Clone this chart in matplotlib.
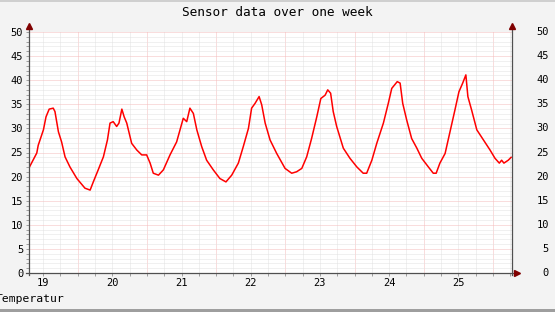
import matplotlib
matplotlib.use('Agg')
import matplotlib.pyplot as plt
import matplotlib.transforms as mtransforms
from matplotlib.patches import Rectangle
import numpy as np

# hours since 19th 00:00, temperature values
hours = [7.1, 9.8, 10.3, 12.1, 13.0, 14.1, 15.5, 16.1, 17.3, 18.4, 19.6, 21.3, 23.7,
         26.5, 28.3, 29.4, 31.1, 32.9, 34.3, 35.2, 36.3, 37.5, 38.3, 39.3, 40.1, 41.0,
         42.7, 44.5, 46.2, 47.9, 49.1, 50.2, 52.0, 53.7, 56.0, 58.3, 60.6, 61.8, 62.9,
         64.1, 65.3, 67.0, 68.7, 71.0, 73.3, 75.4, 77.4, 79.7, 81.4, 83.2, 84.3, 85.5,
         86.9, 87.8, 89.0, 90.7, 93.0, 95.9, 98.2, 99.9, 101.7, 103.4, 105.1, 106.9,
         108.3, 109.8, 110.7, 111.7, 112.6, 113.8, 116.1, 118.4, 120.8, 123.0, 124.2,
         126.0, 127.7, 130.0, 131.7, 132.9, 134.8, 135.8, 136.7, 138.1, 139.8, 141.6,
         143.3, 145.6, 147.3, 148.3, 149.6, 151.4, 153.1, 154.8, 156.2, 157.5, 158.6,
         159.3, 160.6, 162.4, 164.7, 167.0, 168.7, 170.2, 171.0, 171.8, 173.3, 174.3]
temps = [21.8, 24.9, 26.5, 29.7, 32.4, 34.0, 34.2, 33.5, 29.3, 27.2, 24.1, 22.0, 19.6,
         17.6, 17.2, 18.9, 21.4, 24.1, 27.6, 31.1, 31.4, 30.4, 31.1, 34.0, 32.4, 31.1,
         26.9, 25.5, 24.5, 24.5, 22.8, 20.7, 20.3, 21.4, 24.5, 27.2, 32.1, 31.4, 34.2,
         33.1, 29.7, 26.2, 23.4, 21.4, 19.6, 18.9, 20.3, 22.8, 26.2, 30.0, 34.2, 35.2,
         36.6, 34.9, 31.1, 27.6, 24.8, 21.7, 20.7, 21.0, 21.7, 24.1, 27.9, 32.4,
         36.2, 36.9, 38.0, 37.3, 33.5, 30.4, 25.9, 23.8, 22.0, 20.7, 20.7,
         23.4, 26.9, 31.1, 35.2, 38.3, 39.7, 39.4, 35.2, 31.7, 27.9, 25.9,
         23.8, 22.0, 20.7, 20.7, 22.8, 24.8, 29.3, 33.8, 37.6, 39.4, 41.1,
         36.6, 33.8, 29.7, 27.6, 25.5, 23.8, 22.8, 23.4, 22.8, 23.4, 24.0]

day_labels = ['19', '20', '21', '22', '23', '24', '25']
label_hours = [12, 36, 60, 84, 108, 132, 156]
y_ticks = list(range(0, 51, 5))
title = 'Sensor data over one week'
legend_label = 'Temperatur'

W, H = 555, 312
L, R, B, T = 29, 512, 273, 32
MONO = 'DejaVu Sans Mono'

fig = plt.figure(figsize=(W / 100, H / 100), dpi=100, facecolor='#F3F3F3')
ax = fig.add_axes([L / W, 1 - B / H, (R - L) / W, (B - T) / H])
ax.set_facecolor('white')
ax.set_xlim(7.1, 174.6)
ax.set_ylim(0, 50)
for s in ax.spines.values():
    s.set_visible(False)

ax.set_xticks(np.arange(24, 175, 24))
ax.set_xticks(np.arange(12, 175, 6), minor=True)
ax.set_yticks(y_ticks)
ax.set_yticks(np.arange(0, 51, 1), minor=True)

dot = (0, (1, 1))
ax.grid(which='major', color='#F5BDBD', linestyle=dot, linewidth=0.72)
ax.grid(which='minor', color='#E2E2E2', linestyle=dot, linewidth=0.72)
ax.set_axisbelow(True)

ax.tick_params(which='both', direction='out', length=2, width=0.72,
               color='#A0A0A0', labelbottom=False, labelleft=True,
               labelsize=7.5, pad=2.2, right=False, top=False)
for lbl in ax.get_yticklabels():
    lbl.set_family(MONO)

# right labels
tr_right = mtransforms.blended_transform_factory(fig.transFigure, ax.transData)
for v in y_ticks:
    ax.text(549 / W, v, str(v), transform=tr_right, ha='right', va='center',
            fontsize=7.5, family=MONO, color='black')

# x labels at noon
tr_x = mtransforms.offset_copy(ax.get_xaxis_transform(), fig=fig, y=-5, units='dots')
for h, lab in zip(label_hours, day_labels):
    ax.text(h, 0, lab, transform=tr_x, ha='center', va='top', fontsize=7.5,
            family=MONO, color='black')

# data line
ax.plot(hours, temps, color='#FF0000', linewidth=1.1, zorder=3)

# axes lines with arrows
axis_col = '#505050'
arrow_col = '#800000'
aw, ah = R - L, B - T
ax.plot([-3 / aw, 1 + 5 / aw], [0, 0], transform=ax.transAxes, clip_on=False,
        color=axis_col, lw=0.9, zorder=4)
ax.plot([0, 0], [-2 / ah, 1 + 4 / ah], transform=ax.transAxes, clip_on=False,
        color=axis_col, lw=0.9, zorder=4)
ax.plot([1, 1], [-2 / ah, 1 + 4 / ah], transform=ax.transAxes, clip_on=False,
        color=axis_col, lw=0.9, zorder=4)
ax.plot([0], [1 + 6 / ah], marker='^', markersize=4, color=arrow_col,
        transform=ax.transAxes, clip_on=False, zorder=5, linestyle='none')
ax.plot([1], [1 + 6 / ah], marker='^', markersize=4, color=arrow_col,
        transform=ax.transAxes, clip_on=False, zorder=5, linestyle='none')
ax.plot([1 + 5 / aw], [0], marker='>', markersize=4, color=arrow_col,
        transform=ax.transAxes, clip_on=False, zorder=5, linestyle='none')

# title and legend
fig.text(277.5 / W, 1 - 13 / H, title, ha='center', va='center',
         fontsize=9.2, family=MONO, color='black')
fig.text(-4 / W, 1 - 299 / H, legend_label, ha='left', va='center',
         fontsize=8.2, family=MONO, color='black')

# frame shades
fig.patches.append(Rectangle((0, 1 - 2 / H), 1, 2 / H, transform=fig.transFigure,
                             facecolor='#CFCFCF', edgecolor='none'))
fig.patches.append(Rectangle((0, 0), 1, 3 / H, transform=fig.transFigure,
                             facecolor='#9E9E9E', edgecolor='none'))

fig.savefig('out.png', dpi=100, facecolor=fig.get_facecolor())
